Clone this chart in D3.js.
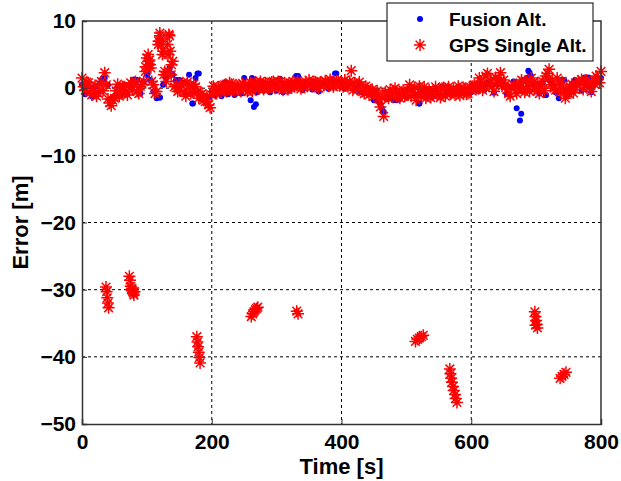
<!DOCTYPE html>
<html>
<head>
<meta charset="utf-8">
<script src="https://cdn.jsdelivr.net/npm/d3@7"></script>
<style>
  body { margin: 0; background: #fff; }
  text { font-family: "Liberation Sans", Arial, sans-serif; font-weight: bold; }
</style>
</head>
<body>
<div id="chart"></div>
<script>
// sample times (s): values are read every 5 s, the "Mid" list sits 2.5 s later
var sampleStep = 5

// GPS single altitude error (m) at t = 0, 5, 10 ... 800
var gpsValues = [
  1.5, -0.3, 0.8, -1.0, 0.4, -0.8, 1.0, 2.3, -1.6, -2.6,
  -1.5, 0.6, -0.8, 0.2, -1.0, 0.8, 0.5, -0.5, 0.3, 1.0,
  4.5, 3.5, 0.5, -0.5, 7.8, 5.5, 1.0, 7.8, 4.0, 0.5,
  -0.3, 0.8, -1.2, 0.4, -0.6, 0.2, -1.5, -0.8, -2.0, -2.5,
  -1.0, -0.3, 0.2, -0.6, 0.5, -0.2, 0.6, -0.4, 0.3, -0.5,
  0.4, -0.5, 0.8, 0.0, 0.6, 1.0, -0.2, 0.7, 0.2, 1.0,
  0.3, 0.9, -0.3, 0.6, 0.1, 1.0, 0.4, 0.7, 0.2, 0.9,
  1.2, 0.3, 0.9, 0.0, 0.8, 1.1, 0.3, 0.9, 0.5, 1.0,
  0.6, 1.2, 0.2, 2.6, 0.8, -0.2, 0.4, -0.8, 0.0, -0.6,
  -1.2, -0.4, -2.8, -4.2, -1.0, -0.2, -1.3, -0.5, -1.5, -0.3,
  -1.0, 0.5, -0.6, -1.8, 0.3, -0.8, -1.5, -0.2, -1.0, 0.2,
  -0.8, 0.0, -1.2, 0.2, -0.6, -1.0, 0.3, -0.5, -0.1, -0.8,
  -0.3, 0.5, 0.1, 1.0, 0.4, 2.2, 1.2, -0.5, 0.8, 2.3,
  1.2, -0.2, -1.2, 0.5, -0.8, 0.8, 0.0, 1.0, -0.5, 0.8,
  0.2, -0.8, 1.0, 1.8, 2.8, 1.2, -0.3, 0.6, 1.0, -1.5,
  -0.8, 0.6, -0.2, 1.0, 1.3, 0.4, 0.8, -0.5, 0.6, 1.5,
  2.5
]

// GPS single altitude error (m) at t = 2.5, 7.5 ... 797.5
var gpsValuesMid = [
  0.2, 0.9, -0.6, 0.1, -1.2, 0.6, -0.4, 0.5, -2.2, -1.8,
  -0.4, -1.2, 0.2, -0.6, 0.3, -0.2, 1.0, -0.8, 0.6, 2.5,
  4.0, 1.0, -0.8, 6.5, 7.0, 2.5, 5.0, 2.0, 0.2, -0.5,
  0.5, -0.6, 0.9, -0.8, 0.6, -0.5, -1.0, -1.8, -1.2, -2.9,
  0.3, -0.8, -0.2, 0.4, -0.5, 0.8, -0.3, 0.5, -0.2, 0.7,
  -0.2, 0.5, -0.5, 0.9, -0.1, 0.4, 0.8, -0.1, 0.9, 0.0,
  1.0, 0.0, 0.8, -0.2, 0.7, 0.2, 1.1, -0.1, 0.6, 0.3,
  0.6, 1.0, 0.2, 0.9, 0.4, 0.7, 1.3, 0.2, 1.1, 0.4,
  0.2, 0.8, 1.0, -0.3, 0.4, 0.9, -0.5, 0.3, -1.0, -0.2,
  -0.8, -1.6, -1.5, -0.6, -1.5, -0.8, 0.0, -1.2, -0.6, -1.2,
  -0.4, -1.2, 0.1, -0.9, -1.2, 0.2, -0.8, -1.4, -0.4, -0.9,
  -1.4, 0.1, -0.4, -0.9, 0.0, -0.3, -1.1, 0.1, -0.9, 0.2,
  0.3, -0.2, 1.5, -0.3, 1.8, 0.4, 0.3, 1.6, 1.5, 0.3,
  0.5, -0.8, 0.2, 0.4, 0.0, 1.2, -0.6, 0.3, 1.5, -0.2,
  0.8, 0.2, -0.4, 2.2, 0.5, 0.0, 1.5, -0.6, 0.0, -0.6,
  0.2, -0.7, 0.5, 0.8, -0.2, 1.2, 0.1, 0.9, 1.8, 0.8
]

// fusion altitude error (m) at t = 0, 5, 10 ... 800
var fusionValues = [
  0.5, -0.9, 0.3, -1.2, 0.2, -0.6, 1.2, 1.5, 0.5, -1.5,
  -1.3, 0.3, -1.1, 0.5, -0.9, 0.2, 1.3, 1.2, -0.8, 1.0,
  2.0, 1.2, -0.5, -1.5, -1.4, 0.5, 1.5, 3.0, 2.0, 1.2,
  1.2, 0.8, -0.9, 2.0, -2.3, 1.5, 2.2, -1.5, -2.0, -1.3,
  -0.6, -1.1, 0.0, -1.2, 0.8, -0.9, 0.5, -1.0, 0.4, -0.8,
  1.5, 0.3, -1.8, -2.8, -0.6, 0.8, -0.4, 0.5, -0.6, 0.6,
  -0.4, 1.4, -0.6, 0.5, -0.4, 0.8, 1.8, 1.0, -0.3, 0.7,
  0.9, -0.2, 0.6, -0.5, 0.7, 0.9, -0.1, 1.1, 2.2, 0.8,
  0.8, -0.1, 0.4, 0.6, -0.3, 0.2, -0.6, -0.4, -0.8, -0.5,
  -1.8, -1.0, -2.5, -3.5, -1.6, -0.5, -1.8, -1.8, -1.6, -0.5,
  -1.4, 0.0, -0.8, -1.0, -2.3, -0.5, -1.2, -0.3, -1.3, 0.0,
  -1.1, 0.2, -1.0, 0.0, -1.0, -0.5, -0.6, -0.2, -0.8, -0.5,
  -0.6, 0.3, -0.4, 0.6, -0.3, 0.8, 0.5, -0.7, 0.5, 1.0,
  0.6, -0.9, 0.2, 1.0, -3.0, -4.8, -0.5, 1.5, 2.3, 0.5,
  0.5, -0.8, 0.8, -1.0, 1.2, 0.5, -0.6, -1.5, 1.2, -0.5,
  -0.9, 0.5, 1.2, 0.6, -0.4, 1.6, 0.5, -0.6, 0.6, 1.0,
  1.5
]

// extra GPS fixes: spikes near 100-140 s and the jumps down to -30..-47 m
var gpsExtraT = [98, 102, 104, 106, 118, 120, 122, 124, 126, 132, 133, 134, 136, 138,
  37, 38, 39, 40, 41,
  73, 74, 75, 76, 77, 78, 79, 80, 81,
  177, 178, 179, 180, 181, 182,
  261, 263, 265, 267, 269, 271,
  331, 333,
  514, 517, 520, 523, 526,
  567, 568, 569, 570, 572, 573, 575, 576, 578,
  698, 699, 700, 701, 702, 699,
  737, 740, 743, 746]
var gpsExtraV = [3.2, 5.0, 4.2, 3.0, 7.0, 8.2, 6.5, 5.0, 2.0, 6.5, 2.5, 8.0, 5.5, 3.5,
  -29.6, -30.3, -31.2, -32.0, -32.7,
  -28.0, -28.6, -29.5, -30.0, -29.8, -30.2, -30.5, -30.8, -30.3,
  -37.0, -37.8, -38.5, -39.3, -40.1, -40.9,
  -34.0, -33.6, -33.3, -33.0, -32.8, -32.6,
  -33.2, -33.6,
  -37.7, -37.4, -37.2, -37.0, -36.8,
  -41.8, -42.5, -43.2, -43.8, -44.4, -45.0, -45.6, -46.2, -46.8,
  -33.3, -34.0, -34.6, -35.2, -35.7, -35.3,
  -43.2, -42.9, -42.6, -42.3]

// extra fusion points seen outside the GPS band
var fusionExtraT = [677, 688, 692, 268, 462, 32, 101, 120, 135, 171, 178, 262, 333, 392, 454, 520, 715, 743, 781]
var fusionExtraV = [-3.8, 2.6, 1.8, -2.4, -3.0, 1.2, 2.0, -1.4, 3.0, -2.3, 2.2, 1.5, 1.8, 2.2, -1.8, -2.3, -1.0, 1.2, 1.6]

var xTicks = [0, 200, 400, 600, 800]
var yTicks = [-50, -40, -30, -20, -10, 0, 10]
var seriesNames = ["Fusion Alt.", "GPS Single Alt."]

var margin = { top: 21, right: 20, bottom: 57, left: 82 }
var width = 601 - margin.left
var height = 424 - margin.top

var svg = d3.select("#chart").append("svg")
  .attr("width", 621)
  .attr("height", 481)

var g = svg.append("g")
  .attr("transform", "translate(" + margin.left + "," + margin.top + ")")

var x = d3.scaleLinear().domain([0, 800]).range([0, width])
var y = d3.scaleLinear().domain([-50, 10]).range([height, 0])

// build point lists
var gps = gpsValues.map((v, i) => ({ t: i * sampleStep, v: v }))
gpsValuesMid.forEach((v, i) => gps.push({ t: i * sampleStep + sampleStep / 2, v: v }))
gpsExtraT.forEach((t, i) => gps.push({ t: t, v: gpsExtraV[i] }))
var fusion = fusionValues.map((v, i) => ({ t: i * sampleStep, v: v }))
fusionExtraT.forEach((t, i) => fusion.push({ t: t, v: fusionExtraV[i] }))

// grid
g.append("g").selectAll("line")
  .data(xTicks.slice(1, -1))
  .enter().append("line")
  .attr("x1", d => x(d)).attr("x2", d => x(d))
  .attr("y1", 0).attr("y2", height)
  .attr("stroke", "#000").attr("stroke-width", 1)
  .attr("stroke-dasharray", "3,3")

g.append("g").selectAll("line")
  .data(yTicks.slice(1, -1))
  .enter().append("line")
  .attr("x1", 0).attr("x2", width)
  .attr("y1", d => y(d)).attr("y2", d => y(d))
  .attr("stroke", "#000").attr("stroke-width", 1)
  .attr("stroke-dasharray", "3,3")

// asterisk marker path
var s = 6
var starPath = "M" + -s + ",0H" + s + "M0," + -s + "V" + s +
  "M" + -s * 0.72 + "," + -s * 0.72 + "L" + s * 0.72 + "," + s * 0.72 +
  "M" + -s * 0.72 + "," + s * 0.72 + "L" + s * 0.72 + "," + -s * 0.72

// fusion points (drawn first, GPS on top as in the original plot order)
g.append("g").selectAll("circle")
  .data(fusion)
  .enter().append("circle")
  .attr("cx", d => x(d.t))
  .attr("cy", d => y(d.v))
  .attr("r", 3)
  .attr("fill", "#0000ff")

// GPS points
g.append("g").selectAll("path")
  .data(gps)
  .enter().append("path")
  .attr("d", starPath)
  .attr("transform", d => "translate(" + x(d.t) + "," + y(d.v) + ")")
  .attr("stroke", "#ff0000")
  .attr("stroke-width", 1.5)
  .attr("fill", "none")

// axes
var xAxis = g.append("g")
  .attr("transform", "translate(0," + height + ")")
  .call(d3.axisBottom(x).tickValues(xTicks).tickSize(-5).tickPadding(10))
var yAxis = g.append("g")
  .call(d3.axisLeft(y).tickValues(yTicks).tickSize(-5).tickPadding(6))

;[xAxis, yAxis].forEach(ax => {
  ax.select(".domain").attr("stroke", "#333").attr("stroke-width", 1.5)
  ax.selectAll(".tick line").attr("stroke", "#333")
  ax.selectAll("text")
    .attr("fill", "#000")
    .style("font-size", "21px")
    .style("font-family", "'Liberation Sans', Arial, sans-serif")
    .style("font-weight", "bold")
})

// top and right border
g.append("path")
  .attr("d", "M0,0H" + width + "V" + height)
  .attr("fill", "none")
  .attr("stroke", "#333")
  .attr("stroke-width", 1.5)

// axis titles
svg.append("text")
  .attr("x", margin.left + width / 2)
  .attr("y", 474)
  .attr("text-anchor", "middle")
  .style("font-size", "22px")
  .text("Time [s]")

svg.append("text")
  .attr("transform", "translate(28," + (margin.top + height / 2) + ") rotate(-90)")
  .attr("text-anchor", "middle")
  .style("font-size", "22px")
  .text("Error [m]")

// legend
var legend = svg.append("g").attr("class", "legend")
legend.append("rect")
  .attr("x", 387).attr("y", 3)
  .attr("width", 206).attr("height", 58)
  .attr("fill", "#fff")
  .attr("stroke", "#000")
  .attr("stroke-width", 1)

var items = legend.selectAll("g.item")
  .data(seriesNames)
  .enter().append("g")
  .attr("class", "item")
  .attr("transform", (d, i) => "translate(420," + (19 + i * 26) + ")")

items.filter((d, i) => i === 0).append("circle")
  .attr("r", 3).attr("fill", "#0000ff")
items.filter((d, i) => i === 1).append("path")
  .attr("d", starPath)
  .attr("stroke", "#ff0000").attr("stroke-width", 1.5).attr("fill", "none")

items.append("text")
  .attr("x", 29)
  .attr("dy", "0.35em")
  .style("font-size", "19px")
  .text(d => d)
</script>
</body>
</html>
